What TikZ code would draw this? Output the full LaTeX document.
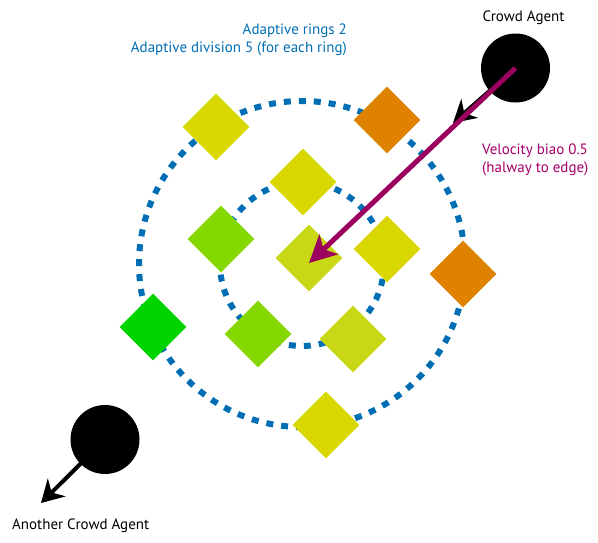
\documentclass[tikz,border=0pt]{standalone}
\usepackage{fontspec}
\setmainfont{PT Sans}
\usetikzlibrary{shapes.geometric,arrows.meta}
\definecolor{ringblue}{RGB}{0,110,180}
\definecolor{dyellow}{RGB}{216,216,0}
\definecolor{dorange}{RGB}{223,130,0}
\definecolor{dgreen}{RGB}{132,216,0}
\definecolor{dbright}{RGB}{0,212,0}
\definecolor{dyg}{RGB}{200,216,20}
\definecolor{velo}{RGB}{155,0,95}
\definecolor{velotext}{RGB}{165,0,105}
\begin{document}
\begin{tikzpicture}[x=1pt,y=-1pt,
  ring/.style={draw=ringblue,line width=6pt,dash pattern=on 7pt off 8pt},
  cand/.style={shape=diamond,minimum width=67pt,minimum height=67pt,inner sep=0pt,aspect=1},
  agent/.style={circle,fill=black,minimum size=69pt,inner sep=0pt},
  lbl/.style={font=\fontsize{15}{18}\selectfont,inner sep=0pt}]
\useasboundingbox (0,0) rectangle (598,542);
\coordinate (c) at (302,264);
\draw[ring] (c) circle[radius=163];
\draw[ring] (c) circle[radius=82];
% outer ring
\node[cand,fill=dyellow] (o1) at (216,127) {};
\node[cand,fill=dorange] (o2) at (387,120) {};
\node[cand,fill=dorange] (o3) at (463,274) {};
\node[cand,fill=dbright] (o4) at (153,327) {};
\node[cand,fill=dyellow] (o5) at (326,425) {};
% inner ring
\node[cand,fill=dyellow] (i1) at (303,182) {};
\node[cand,fill=dgreen] (i2) at (221,239) {};
\node[cand,fill=dyellow] (i3) at (387,249) {};
\node[cand,fill=dgreen] (i4) at (258,334) {};
\node[cand,fill=dyg] (i5) at (353,339) {};
% centre
\node[cand,fill=dyg] (ctr) at (309,258) {};
% agents
\node[agent] (a1) at (515.5,68) {};
\node[agent] (a2) at (105,439.5) {};
\coordinate (v1) at (453,123);
\coordinate (v2) at (309,263);
\coordinate (v3) at (41,503);
\draw[line width=4pt,-{Stealth[length=22pt,width=25pt,inset=7pt]}] (a1.center) -- (v1);
\draw[velo,line width=5pt,-{Stealth[length=27pt,width=27pt,inset=7pt]}] (a1.center) -- (v2);
\draw[line width=4pt,-{Stealth[length=22pt,width=25pt,inset=7pt]}] (a2.center) -- (v3);
% labels
\node[lbl,anchor=base] (t1) at (523.5,21) {Crowd Agent};
\node[lbl,anchor=base east,text=ringblue] (t2) at (347,34) {Adaptive rings 2};
\node[lbl,anchor=base east,text=ringblue] (t3) at (347,52) {Adaptive division 5 (for each ring)};
\node[lbl,anchor=base west,text=velotext] (t4) at (482,154) {Velocity biao 0.5};
\node[lbl,anchor=base west,text=velotext] (t5) at (482,172) {(halway to edge)};
\node[lbl,anchor=base west] (t6) at (12,529) {Another Crowd Agent};
\end{tikzpicture}
\end{document}
